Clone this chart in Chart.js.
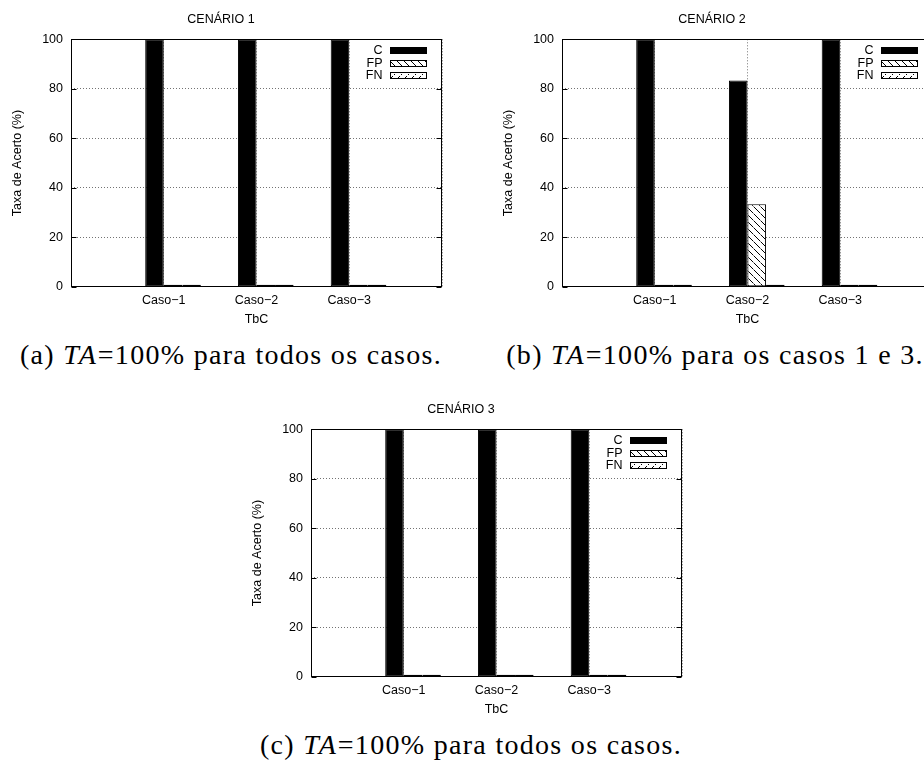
<!DOCTYPE html>
<html><head><meta charset="utf-8">
<script src="https://cdn.jsdelivr.net/npm/chart.js@4.4.1/dist/chart.umd.min.js"></script>
<style>
html,body{margin:0;padding:0;background:#fff;width:924px;height:762px;overflow:hidden;position:relative}
canvas{position:absolute}
.cap{position:absolute;width:600px;text-align:center;white-space:nowrap;font-family:"Liberation Serif",serif;font-size:28px;line-height:28px;letter-spacing:1.3px;color:#000}
.cap i{letter-spacing:2px}
</style></head><body>
<canvas id="c1" width="460" height="330" style="left:0px;top:0px"></canvas>
<canvas id="c2" width="460" height="330" style="left:491px;top:0px"></canvas>
<canvas id="c3" width="460" height="330" style="left:240px;top:390px"></canvas>
<div class="cap" style="left:-69px;top:341px">(a) <i>TA</i>=100% para todos os casos.</div>
<div class="cap" style="left:415px;top:341px">(b) <i>TA</i>=100% para os casos 1 e 3.</div>
<div class="cap" style="left:171px;top:731px">(c) <i>TA</i>=100% para todos os casos.</div>
<script>
// ---- data ----
const categories = ['Caso\u22121', 'Caso\u22122', 'Caso\u22123'];
const seriesNames = ['C', 'FP', 'FN'];
const yTickValues = [0, 20, 40, 60, 80, 100];
const titles = ['CENÁRIO 1', 'CENÁRIO 2', 'CENÁRIO 3'];
const xTitle = 'TbC';
const yTitle = 'Taxa de Acerto (%)';

const c1C  = [100, 100, 100];
const c1FP = [0, 0, 0];
const c1FN = [0, 0, 0];

const c2C  = [100, 83.3, 100];
const c2FP = [0, 33.3, 0];
const c2FN = [0, 0, 0];

const c3C  = [100, 100, 100];
const c3FP = [0, 0, 0];
const c3FN = [0, 0, 0];

// ---- helpers ----
const pad = a => [null, ...a, null];
const paddedLabels = ['', ...categories, ''];
const FONT = {family: '"Liberation Sans", Arial, sans-serif', size: 12.5, weight: 'normal', lineHeight: 1.2};

function makePattern(dir) {
  const s = 7, cv = document.createElement('canvas');
  cv.width = s; cv.height = s;
  const g = cv.getContext('2d');
  g.fillStyle = '#fff'; g.fillRect(0, 0, s, s);
  for (let i = 0; i < s; i++) {
    const x = dir === 'fp' ? i : s - 1 - i;
    if (dir === 'fp') {
      g.fillStyle = (i % 4 === 3) ? '#888' : '#000';
    } else {
      if (i % 2 === 1) continue;
      g.fillStyle = '#000';
    }
    g.fillRect(x, i, 1, 1);
  }
  return g.createPattern(cv, 'repeat');
}
const fpPattern = makePattern('fp');
const fnPattern = makePattern('fn');

const framePlugin = {
  id: 'frame',
  afterDatasetsDraw(chart) {
    const {ctx, chartArea: a, scales: {y}} = chart;
    ctx.save();
    ctx.strokeStyle = '#000'; ctx.lineWidth = 1; ctx.setLineDash([]);
    const L = Math.round(a.left) + 0.5, R = Math.round(a.right) - 0.5;
    const T = Math.round(a.top) + 0.5, B = Math.round(a.bottom) - 0.5;
    ctx.strokeRect(L, T, R - L, B - T);
    y.ticks.forEach(t => {
      const py = Math.round(y.getPixelForValue(t.value)) + 0.5;
      ctx.beginPath();
      ctx.moveTo(L, py); ctx.lineTo(L + 5, py);
      ctx.moveTo(R, py); ctx.lineTo(R - 5, py);
      ctx.stroke();
    });
    ctx.restore();
  }
};

const legendPlugin = {
  id: 'inLegend',
  afterDraw(chart) {
    const {ctx, chartArea: a} = chart;
    ctx.save();
    ctx.font = '12.5px "Liberation Sans", Arial, sans-serif';
    ctx.textAlign = 'right'; ctx.textBaseline = 'middle';
    const list = chart.data.datasets.filter(d => d.label);
    list.forEach((ds, i) => {
      const cy = a.top + 10.7 + i * 12.7;
      ctx.fillStyle = '#000';
      ctx.fillText(ds.label, a.right - 59.5, cy + 0.5);
      const x0 = Math.round(a.right - 52) + 0.5, w = 36, h = 6;
      const y0 = Math.round(cy - h / 2) + 0.5;
      ctx.fillStyle = ds.backgroundColor;
      ctx.fillRect(x0, y0, w, h);
      ctx.strokeStyle = '#000'; ctx.lineWidth = 1;
      ctx.strokeRect(x0, y0, w, h);
    });
    ctx.restore();
  }
};

function makeChart(id, title, C, FP, FN) {
  const gridOpts = {display: true, color: 'rgba(0,0,0,0.55)', lineWidth: 1, drawTicks: false};
  return new Chart(document.getElementById(id), {
    type: 'bar',
    data: {
      labels: paddedLabels,
      datasets: [
        {label: '', data: pad([null, null, null])},
        {label: seriesNames[0], data: pad(C), backgroundColor: '#000', borderColor: '#000', borderWidth: 1},
        {label: seriesNames[1], data: pad(FP), backgroundColor: fpPattern, borderColor: '#000', borderWidth: 1},
        {label: seriesNames[2], data: pad(FN), backgroundColor: fnPattern, borderColor: '#000', borderWidth: 1}
      ]
    },
    options: {
      responsive: false, animation: false, devicePixelRatio: 1,
      layout: {padding: {left: 0, right: 18, top: 0, bottom: 0}},
      datasets: {bar: {categoryPercentage: 0.8, barPercentage: 1, borderSkipped: false, minBarLength: 2}},
      plugins: {
        legend: {display: false},
        tooltip: {enabled: false},
        title: {display: true, text: title, color: '#000', font: FONT, padding: {top: 12.5, bottom: 11.8}}
      },
      scales: {
        x: {
          offset: false,
          grid: Object.assign({offset: false}, gridOpts),
          border: {display: false, dash: [1, 2]},
          ticks: {color: '#000', font: FONT, padding: 6, autoSkip: false, maxRotation: 0},
          title: {display: true, text: xTitle, color: '#000', font: FONT, padding: {top: 0, bottom: 3.2}},
          afterFit(s) { s.height = 43.3; }
        },
        y: {
          min: 0, max: 100,
          afterBuildTicks(s) { s.ticks = yTickValues.map(v => ({value: v})); },
          grid: gridOpts,
          border: {display: false, dash: [1, 2]},
          ticks: {color: '#000', font: FONT, padding: 8},
          title: {display: true, text: yTitle, color: '#000', font: FONT, padding: {top: 10.5, bottom: 0}},
          afterFit(s) { s.width = 71; }
        }
      }
    },
    plugins: [framePlugin, legendPlugin]
  });
}

makeChart('c1', titles[0], c1C, c1FP, c1FN);
makeChart('c2', titles[1], c2C, c2FP, c2FN);
makeChart('c3', titles[2], c3C, c3FP, c3FN);
</script>
</body></html>
